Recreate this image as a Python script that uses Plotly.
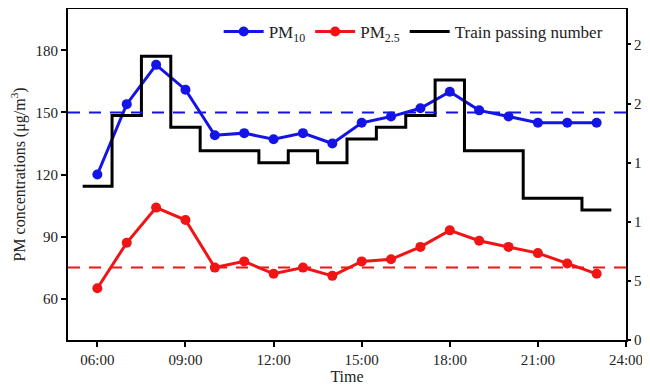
import plotly.graph_objects as go

hours = [6, 7, 8, 9, 10, 11, 12, 13, 14, 15, 16, 17, 18, 19, 20, 21, 22, 23]
pm10 = [120, 154, 173, 161, 139, 140, 137, 140, 135, 145, 148, 152, 160, 151, 148, 145, 145, 145]
pm25 = [65, 87, 104, 98, 75, 78, 72, 75, 71, 78, 79, 85, 93, 88, 85, 82, 77, 72]
trains = [13, 19, 24, 18, 16, 16, 15, 16, 15, 17, 18, 19, 22, 16, 16, 12, 12, 11]
pm10_limit = 150
pm25_limit = 75
tick_hours = [6, 9, 12, 15, 18, 21, 24]
tick_labels = ["06:00", "09:00", "12:00", "15:00", "18:00", "21:00", "24:00"]

BLUE = "#1414e6"
RED = "#f01414"
FONT = "Liberation Serif"

step_x = [h - 0.5 for h in hours] + [hours[-1] + 0.5]
step_y = trains + [trains[-1]]

fig = go.Figure()
fig.add_trace(go.Scatter(x=hours, y=pm10, mode="lines+markers", name="PM<sub>10</sub>",
                         line=dict(color=BLUE, width=3), marker=dict(size=10, color=BLUE)))
fig.add_trace(go.Scatter(x=hours, y=pm25, mode="lines+markers", name="PM<sub>2.5</sub>",
                         line=dict(color=RED, width=3), marker=dict(size=10, color=RED)))
fig.add_trace(go.Scatter(x=step_x, y=step_y, mode="lines", name="Train passing number",
                         line=dict(color="black", width=3, shape="hv"), yaxis="y2"))

fig.add_shape(type="line", xref="paper", x0=0, x1=1, yref="y", y0=pm10_limit, y1=pm10_limit,
              line=dict(color=BLUE, width=2, dash="12px,9px"))
fig.add_shape(type="line", xref="paper", x0=0, x1=1, yref="y", y0=pm25_limit, y1=pm25_limit,
              line=dict(color=RED, width=2, dash="12px,9px"))

fig.update_layout(
    width=642, height=380,
    margin=dict(l=60, r=24, t=1, b=48),
    paper_bgcolor="white", plot_bgcolor="white",
    font=dict(family=FONT, size=15, color="#222"),
    showlegend=True,
    legend=dict(orientation="h", x=0.27, y=0.985, xanchor="left", yanchor="top",
                bgcolor="rgba(0,0,0,0)", font=dict(size=17), itemwidth=40,
                tracegroupgap=0),
    xaxis=dict(range=[5, 24], tickvals=tick_hours, ticktext=tick_labels, automargin=False,
               showgrid=False, zeroline=False, showline=True, linecolor="black", linewidth=2,
               mirror=True, ticks="outside", ticklen=5, tickwidth=2, tickcolor="black",
               title=dict(text="Time", standoff=0, font=dict(size=16))),
    yaxis=dict(range=[40, 200], tick0=0, dtick=30, showgrid=False, zeroline=False,
               automargin=False,
               showline=True, linecolor="black", linewidth=2, ticks="outside", ticklen=5,
               tickwidth=2, tickcolor="black",
               title=dict(text="PM concentrations (μg/m<sup>3</sup>)", standoff=9,
                          font=dict(size=16))),
    yaxis2=dict(range=[0, 28], tick0=0, dtick=5, overlaying="y", side="right",
                automargin=False,
                showgrid=False, zeroline=False, showline=True, linecolor="black", linewidth=2,
                ticks="outside", ticklen=3, tickwidth=2, tickcolor="black"),
)

fig.write_html("out.html")
